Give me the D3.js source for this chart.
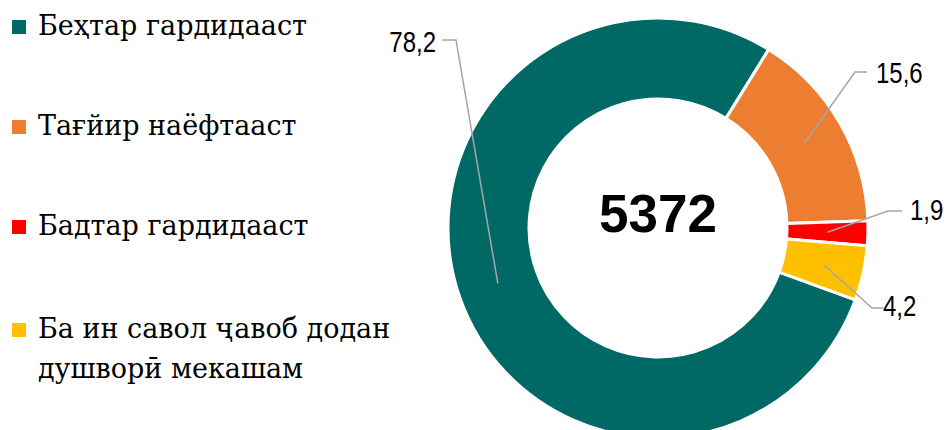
<!DOCTYPE html>
<html>
<head>
<meta charset="utf-8">
<script src="https://cdn.jsdelivr.net/npm/d3@7"></script>
<style>
  body { margin: 0; background: #fff; }
  svg { display: block; }
</style>
</head>
<body>
<svg width="947" height="430"></svg>
<script>
// categories and shares (%) in the order Excel drew them
const categories = [
    'Беҳтар гардидааст',
    'Тағйир наёфтааст',
    'Бадтар гардидааст',
    'Ба ин савол ҷавоб додан душворӣ мекашам'
];
const shares = [78.2, 15.6, 1.9, 4.2];
const shareLabels = ['78,2', '15,6', '1,9', '4,2'];
const totalLabel = '5372';
const legendLines = [
    ['Беҳтар гардидааст'],
    ['Тағйир наёфтааст'],
    ['Бадтар гардидааст'],
    ['Ба ин савол ҷавоб додан', 'душворӣ мекашам']
];
const sliceColors = ['#006965', '#ED7D31', '#FF0000', '#FFC000'];

const cx = 658, cy = 228;
const outerR = 210, innerR = 129;

const serifFont = "'DejaVu Serif', 'Liberation Serif', serif";
const sansFont = "'Liberation Sans', Arial, sans-serif";

const svg = d3.select('svg');

const color = d3.scaleOrdinal().domain(categories).range(sliceColors);

const pie = d3.pie()
    .sort(null)
    .value(d => d.value)
    .startAngle(110 * Math.PI / 180)
    .endAngle(110 * Math.PI / 180 + 2 * Math.PI);

const arc = d3.arc().innerRadius(innerR).outerRadius(outerR);

const arcs = pie(categories.map((c, i) => ({ name: c, value: shares[i], label: shareLabels[i] })));

const donut = svg.append('g').attr('transform', `translate(${cx},${cy})`);

donut.selectAll('path.slice')
    .data(arcs)
    .join('path')
    .attr('class', 'slice')
    .attr('d', arc)
    .attr('fill', d => color(d.data.name))
    .attr('stroke', '#fff')
    .attr('stroke-width', 3);

// label placement (elbow end and text anchor), relative to the donut centre
const labelLayout = [
    { elbow: [-202, -188], end: [-216, -188], tx: -222, ty: -176, anchor: 'end' },
    { elbow: [197, -156], end: [209, -156], tx: 218, ty: -145, anchor: 'start' },
    { elbow: [230, -17], end: [244, -17], tx: 252, ty: -8, anchor: 'start' },
    { elbow: [214, 80], end: [225, 80], tx: 225, ty: 88, anchor: 'start' }
];

donut.selectAll('polyline.leader')
    .data(arcs)
    .join('polyline')
    .attr('class', 'leader')
    .attr('fill', 'none')
    .attr('stroke', '#A6A6A6')
    .attr('stroke-width', 1.5)
    .attr('points', (d, i) => {
        const p = arc.centroid(d);
        const l = labelLayout[i];
        return [p, l.elbow, l.end].map(q => q.join(',')).join(' ');
    });

// the labels use a condensed face; squeeze Liberation Sans horizontally to match
donut.selectAll('text.val')
    .data(arcs)
    .join('text')
    .attr('class', 'val')
    .attr('transform', (d, i) => `translate(${labelLayout[i].tx},${labelLayout[i].ty}) scale(0.8,1)`)
    .attr('text-anchor', (d, i) => labelLayout[i].anchor)
    .style('font-family', sansFont)
    .attr('font-size', 30)
    .attr('fill', '#000')
    .text(d => d.data.label);

donut.append('text')
    .attr('x', 0)
    .attr('y', 4)
    .attr('text-anchor', 'middle')
    .style('font-family', sansFont)
    .attr('font-weight', 'bold')
    .attr('font-size', 53)
    .attr('fill', '#000')
    .text(totalLabel);

// legend
const legendY = [35, 135, 235, 338];
const legend = svg.append('g');
const items = legend.selectAll('g.item')
    .data(categories)
    .join('g')
    .attr('class', 'item')
    .attr('transform', (d, i) => `translate(0,${legendY[i]})`);

items.append('rect')
    .attr('x', 12)
    .attr('y', -15)
    .attr('width', 14)
    .attr('height', 14)
    .attr('fill', d => color(d));

items.append('text')
    .style('font-family', serifFont)
    .attr('font-size', 27)
    .attr('fill', '#000')
    .selectAll('tspan')
    .data((d, i) => legendLines[i])
    .join('tspan')
    .attr('x', 38)
    .attr('dy', (d, j) => j === 0 ? 0 : 40)
    .text(d => d);
</script>
</body>
</html>
